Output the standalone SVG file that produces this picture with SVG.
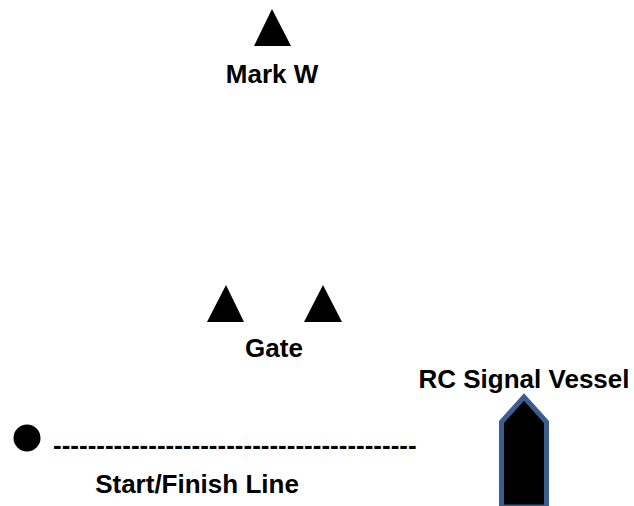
<svg xmlns="http://www.w3.org/2000/svg" width="634" height="506" viewBox="0 0 634 506">
<style>
.lbl{font-family:"Liberation Sans",Arial,sans-serif;font-weight:bold;font-size:26px;fill:#000;text-anchor:middle}
.mk{fill:#000}
</style>
<rect width="634" height="506" fill="#fff"/>
<g id="mark-w">
<polygon class="mk" points="272,9 254,46 291,46"/>
<text class="lbl" x="272" y="83">Mark W</text>
</g>
<g id="gate">
<polygon class="mk" points="226,285 207,322 244,322"/>
<polygon class="mk" points="323,285 304,322 342,322"/>
<text class="lbl" x="274" y="357">Gate</text>
</g>
<g id="rc-vessel">
<text class="lbl" x="524" y="388">RC Signal Vessel</text>
<path d="M501.5,507 L501.5,422 L524,397 L546.5,422 L546.5,507 Z" fill="#000" stroke="#3B5E8C" stroke-width="5"/>
</g>
<g id="start-finish">
<circle cx="27" cy="438" r="13.5" fill="#000"/>
<text class="lbl" x="53" y="454" style="text-anchor:start">------------------------------------------</text>
<text class="lbl" x="197" y="493">Start/Finish Line</text>
</g>
<g id="connectors"></g>
</svg>
